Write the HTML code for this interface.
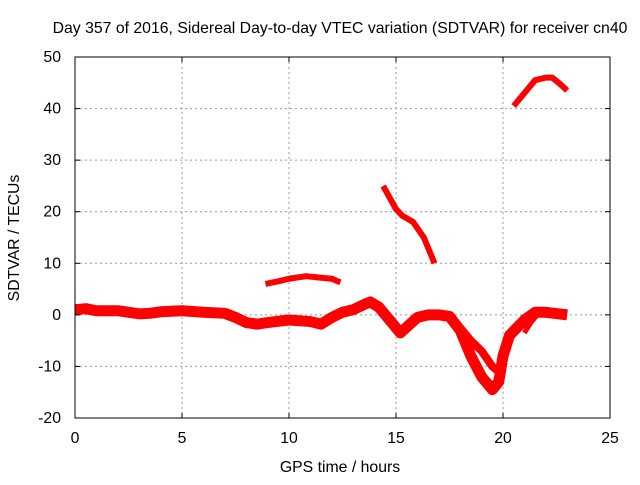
<!DOCTYPE html>
<html><head><meta charset="utf-8"><style>
body{margin:0;background:#fff;}
svg text{font-family:"Liberation Sans",sans-serif;font-size:15.8px;fill:#000;}
</style></head><body>
<svg id="c" width="640" height="480">
<rect width="640" height="480" fill="#fff"/>
<text x="340" y="33" text-anchor="middle">Day 357 of 2016, Sidereal Day-to-day VTEC variation (SDTVAR) for receiver cn40</text>
<text x="340" y="472" text-anchor="middle">GPS time / hours</text>
<text transform="translate(19,238) rotate(-90)" text-anchor="middle">SDTVAR / TECUs</text>
<g id="grid"></g><g id="series"></g><g id="axes"></g>
</svg>
<script>
const xTicks=[0,5,10,15,20,25];
const yTicks=[-20,-10,0,10,20,30,40,50];
const mainT=[0,0.5,1,2,3,3.5,4,5,6,7,7.5,8,8.5,9,10,11,11.5,12,12.5,13,13.5,13.8,14.2,14.7,15.2,15.6,16,16.5,17,17.5,18,18.5,19,19.5,19.8,20,20.3,21,21.5,22,23];
const mainV=[1,1.2,0.8,0.8,0.2,0.3,0.6,0.8,0.5,0.3,-0.5,-1.5,-1.8,-1.5,-1,-1.3,-1.8,-0.5,0.5,1,2,2.5,1.5,-1,-3.5,-2,-0.5,0,0,-0.3,-3,-8,-12,-14.5,-13,-8,-4,-1,0.5,0.5,0];
const branchT=[17.5,18,18.5,19,19.5,19.8];
const branchV=[-0.5,-2.5,-5,-7,-10,-11];
const branch2T=[21,21.3,21.6];
const branch2V=[-3.5,-1.5,0];
const seg2T=[8.9,9.5,10,10.8,11.5,12,12.4];
const seg2V=[6,6.5,7,7.5,7.2,7,6.3];
const seg3T=[14.4,15,15.3,15.8,16.3,16.8];
const seg3V=[25,20.5,19.2,18,15,10];
const seg4T=[20.5,21,21.5,22,22.3,22.6,23];
const seg4V=[40.5,43,45.5,46,46,45,43.5];
const X0=75,X1=610,Y0=418,Y1=57;
const sx=v=>X0+(v-0)/25*(X1-X0);
const sy=v=>Y0-(v+20)/70*(Y0-Y1);
const NS="http://www.w3.org/2000/svg";
const grid=document.getElementById('grid'),axes=document.getElementById('axes'),ser=document.getElementById('series');
function mk(tag,attrs,parent){const e=document.createElementNS(NS,tag);for(const k in attrs)e.setAttribute(k,attrs[k]);parent.appendChild(e);return e;}
xTicks.forEach(t=>{const x=sx(t);
 if(t>0&&t<25){const g=mk('line',{x1:x,x2:x,y1:Y1,y2:Y0,stroke:'#999','stroke-dasharray':'2,3'},grid);
 
 }
 const l=mk('text',{x:x,y:Y0+25,'text-anchor':'middle'},axes);l.textContent=t;
 
 
 mk('line',{x1:x,x2:x,y1:Y0,y2:Y0-5,stroke:'#000'},axes);mk('line',{x1:x,x2:x,y1:Y1,y2:Y1+5,stroke:'#000'},axes);});
yTicks.forEach(t=>{const y=sy(t);
 if(t>-20&&t<50){const g=mk('line',{x1:X0,x2:X1,y1:y,y2:y,stroke:'#999','stroke-dasharray':'2,3'},grid);
 
 }
 const l=mk('text',{x:X0-14,y:y+5,'text-anchor':'end'},axes);l.textContent=t;
 
 
 mk('line',{x1:X0,x2:X0+5,y1:y,y2:y,stroke:'#000'},axes);mk('line',{x1:X1,x2:X1-5,y1:y,y2:y,stroke:'#000'},axes);});
const fr=mk('rect',{x:X0,y:Y1,width:X1-X0,height:Y0-Y1,fill:'none',stroke:'#000'},axes);


function line(T,V,w,name){const p=mk('polyline',{points:T.map((t,i)=>sx(t)+','+sy(V[i])).join(' '),fill:'none',stroke:'#f00','stroke-width':w,'stroke-linejoin':'round'},ser);
 
 }
line(mainT,mainV,11,'sdtvar-main-series');
line(branchT,branchV,8,'sdtvar-branch-series');
line(branch2T,branch2V,5,'sdtvar-branch2-series');
line(seg2T,seg2V,6,'sdtvar-segment-2');
line(seg3T,seg3V,6,'sdtvar-segment-3');
line(seg4T,seg4V,6,'sdtvar-segment-4');
</script>
</body></html>
